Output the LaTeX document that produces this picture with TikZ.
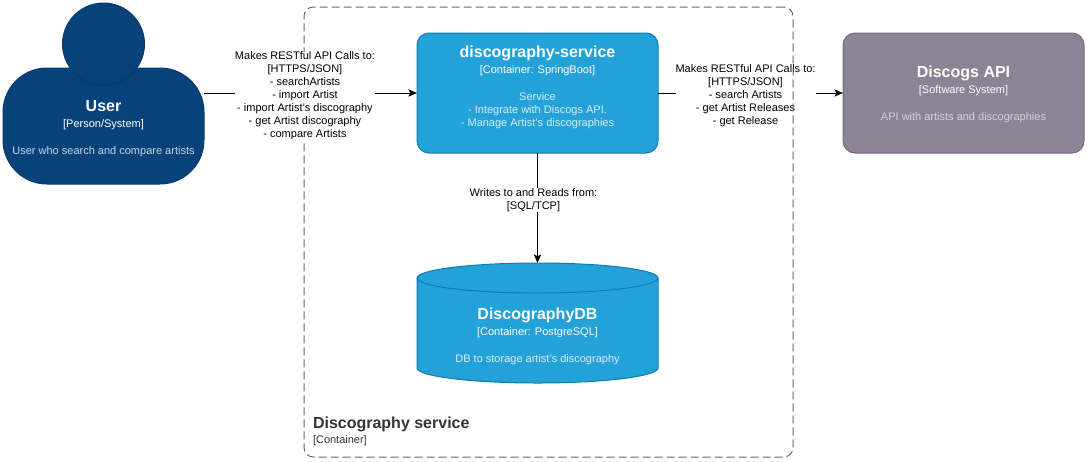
\documentclass[tikz,border=0pt]{standalone}
\usepackage{fontspec}
\setmainfont{Liberation Sans}
\usepackage{xcolor}
\usetikzlibrary{arrows.meta,positioning}

\definecolor{userfill}{HTML}{08427B}
\definecolor{userline}{HTML}{073B6F}
\definecolor{servicefill}{HTML}{23A2D9}
\definecolor{serviceline}{HTML}{0E7DAD}
\definecolor{extfill}{HTML}{8C8496}
\definecolor{extline}{HTML}{736782}
\colorlet{userdesc}{white!78!userfill}
\colorlet{servicedesc}{white!82!servicefill}
\colorlet{extdesc}{white!62!extfill}
\newcommand{\boxtext}[4]{{\fontsize{12}{15}\selectfont\bfseries #1}\\[2.25pt]#2\\[10.5pt]\color{#4}#3}

\begin{document}
\begin{tikzpicture}[x=0.75pt,y=-0.75pt,node distance=82.5pt and 138.75pt,
  every node/.style={font=\fontsize{8.25}{9.75}\selectfont,outer sep=0pt},
  box/.style={draw,rounded corners=9pt,minimum width=180.75pt,minimum height=90pt,line width=0.75pt},
  boxtext/.style={text=white,align=center,inner sep=0pt},
  edgetext/.style={fill=white,align=center,inner sep=0pt,yshift=-2.25pt},
  rim/.style={x radius=90.375pt,y radius=11.25pt},
  link/.style={-{Stealth[length=6.5pt,width=5.5pt,inset=1.5pt]},line width=0.75pt}]
  \useasboundingbox (0,0) rectangle (1087,461);
  \node[box,fill=servicefill,draw=serviceline] (service) at (537.5,93) {};
  \node[box,fill=extfill,draw=extline,right=of service] (discogs) {};
  \node[minimum width=180.75pt,minimum height=90pt,inner sep=0pt,below=of service] (db) {};
  \draw[fill=servicefill,draw=serviceline,line width=0.75pt] ([yshift=-11.25pt]db.north west) arc[start angle=180,end angle=0,rim]
    -- ([yshift=11.25pt]db.south east) arc[start angle=0,end angle=-180,rim] -- cycle;
  \draw[serviceline,line width=0.75pt] ([yshift=-11.25pt]db.north west) arc[start angle=180,end angle=360,rim];
  \node[box,fill=userfill,draw=userline,rounded corners=33pt,minimum width=150.75pt,minimum height=87pt] (user) at (103.5,126) {};
  \node[circle,fill=userfill,draw=userline,line width=0.75pt,minimum size=61.5pt,inner sep=0pt] (head) at (103.5,44) {};

  \node[boxtext] (usertext) at (103.5,128.5) {\boxtext{User}{[Person/System]}{User who search and compare artists}{userdesc}};
  \node[boxtext] (servicetext) at (537.5,87.5) {\boxtext{discography-service}{[Container: SpringBoot]}{Service\\\color{servicedesc}- Integrate with Discogs API.\\\color{servicedesc}- Manage Artist's discographies}{servicedesc}};
  \node[boxtext] (discogstext) at (963.5,94.5) {\boxtext{Discogs API}{[Software System]}{API with artists and discographies}{extdesc}};
  \node[boxtext] (dbtext) at (537.5,336) {\boxtext{DiscographyDB}{[Container: PostgreSQL]}{DB to storage artist's discography}{servicedesc}};

  % the right label lies under the dashed frame, the left one over it
  \draw[link] (service.east) -- node[edgetext,pos=0.473] (restright) {Makes RESTful API Calls to:\\{}[HTTPS/JSON]\\- search Artists\\- get Artist Releases\\- get Release} (discogs.west);
  \node[draw=black!60,dashed,dash pattern=on 6pt off 3pt,rounded corners=7pt,line width=0.75pt,minimum width=366.75pt,minimum height=337.5pt] (frame) at (548.5,232) {};
  \draw[link] (user.east |- service.west) -- node[edgetext,pos=0.474] (restleft) {Makes RESTful API Calls to:\\{}[HTTPS/JSON]\\- searchArtists\\- import Artist\\- import Artist's discography\\- get Artist discography\\- compare Artists} (service.west);
  \draw[link] (service.south) -- node[edgetext,pos=0.4,xshift=-3pt] (sqllabel) {Writes to and Reads from:\\{}[SQL/TCP]} (db.north);

  \node[anchor=west,inner sep=0pt,text=black!80,font=\fontsize{12}{15}\selectfont\bfseries] (frametitle) at (313,424) {Discography service};
  \node[anchor=west,inner sep=0pt,text=black!80] (frametag) at (313,441) {[Container]};
\end{tikzpicture}
\end{document}
